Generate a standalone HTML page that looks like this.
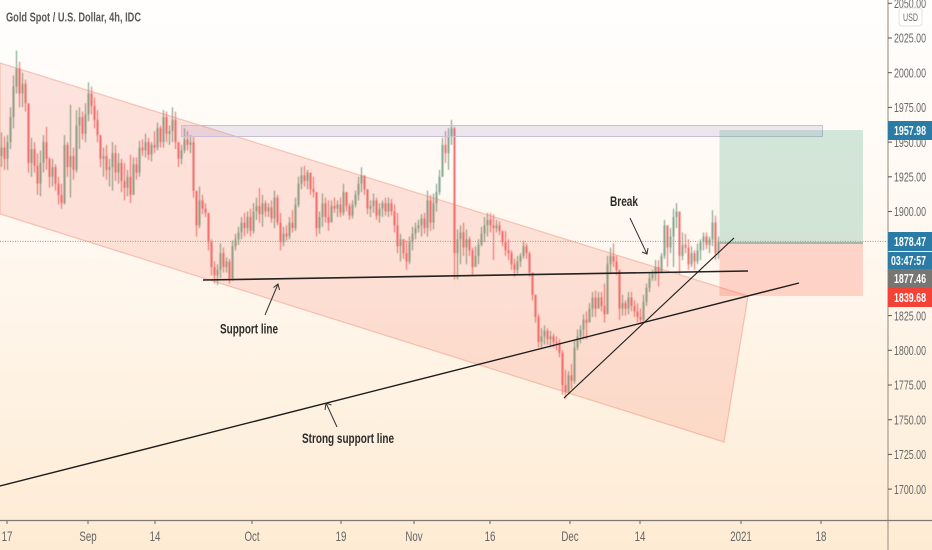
<!DOCTYPE html>
<html lang="en">
<head>
<meta charset="utf-8">
<title>Gold Spot / U.S. Dollar, 4h, IDC</title>
<style>
html,body{margin:0;padding:0;width:932px;height:550px;overflow:hidden;background:#fff}
svg{display:block;font-family:"Liberation Sans",sans-serif}
</style>
</head>
<body>
<svg id="chart" xmlns="http://www.w3.org/2000/svg" width="932" height="550" viewBox="0 0 932 550">
  <defs>
    <linearGradient id="bg" x1="0" y1="0" x2="0" y2="1">
      <stop offset="0" stop-color="#fffefd"/>
      <stop offset="0.45" stop-color="#fff8f0"/>
      <stop offset="1" stop-color="#feebd3"/>
    </linearGradient>
    <filter id="soft" x="-2%" y="-2%" width="104%" height="104%"><feGaussianBlur stdDeviation="0.4"/></filter>
  </defs>
  <rect x="0" y="0" width="932" height="550" fill="url(#bg)"/>
  <g id="candles" filter="url(#soft)"></g>

  <polygon points="0,63 748,296 724,442 0,214" fill="rgba(240,85,60,0.145)" stroke="rgba(238,130,110,0.42)" stroke-width="1.2"/>
  <rect x="181.5" y="125.5" width="641" height="11" fill="rgba(135,115,190,0.15)" stroke="#c8bfd6" stroke-width="1"/>
  <rect x="719.5" y="130" width="143.5" height="113" fill="rgba(60,160,120,0.23)"/>
  <rect x="719.5" y="243" width="143.5" height="53" fill="rgba(250,90,70,0.23)"/>
  <line x1="719.5" y1="243" x2="863" y2="243" stroke="#8a9a90" stroke-width="1.2"/>
  <line id="last-price-line" x1="0" x2="888" stroke="#7fa596" stroke-width="1" stroke-dasharray="1 1.5"/>

  <g>
    <line x1="203" y1="280" x2="748" y2="271" stroke="#222" stroke-width="1.6"/>
    <line x1="0" y1="486" x2="799" y2="283" stroke="#1c1c1c" stroke-width="1.4"/>
    <line x1="564" y1="398" x2="734" y2="238" stroke="#1c1c1c" stroke-width="1.1"/>
    <g fill="none" stroke="#333" stroke-width="1">
      <path d="M265 315 L278 284 M273.5 287.5 L278 284 L279.5 290"/>
    </g>
    <g fill="none" stroke="#333" stroke-width="1">
      <path d="M337 427 L326 403 M325 410 L326 403 L331.5 405"/>
    </g>
    <g fill="none" stroke="#333" stroke-width="1">
      <path d="M630 218 L647 254 M642 252 L647 254 L648 248"/>
    </g>
  </g>

  <text x="6" y="21.5" font-size="13" font-weight="700" fill="#5a5a5a" textLength="135" lengthAdjust="spacingAndGlyphs">Gold Spot / U.S. Dollar, 4h, IDC</text>
  <text x="610" y="206" font-size="14" font-weight="700" fill="#2c2c2c" textLength="28" lengthAdjust="spacingAndGlyphs">Break</text>
  <text x="220" y="333.5" font-size="14" font-weight="700" fill="#2c2c2c" textLength="58" lengthAdjust="spacingAndGlyphs">Support line</text>
  <text x="302" y="443" font-size="14" font-weight="700" fill="#2c2c2c" textLength="92" lengthAdjust="spacingAndGlyphs">Strong support line</text>

  <line x1="888" y1="0" x2="888" y2="550" stroke="#b3a899" stroke-width="1.4"/>
  <line x1="0" y1="520.5" x2="932" y2="520.5" stroke="#7d7a75" stroke-width="1.2"/>
  <g id="y-axis"></g>
  <g id="x-axis"></g>

  <g>
    <rect x="899" y="8" width="23" height="18" rx="3" fill="#fff" stroke="#e6e1db"/>
    <text x="910.5" y="21" font-size="11" fill="#6a6a6a" text-anchor="middle" textLength="15" lengthAdjust="spacingAndGlyphs">USD</text>
  </g>

  <g>
    <rect x="888" y="121" width="44" height="19" fill="#2a7ca6"/>
    <text x="894" y="135" font-size="12.5" font-weight="700" fill="#fff" textLength="32" lengthAdjust="spacingAndGlyphs">1957.98</text>
  </g>
  <g>
    <rect x="888" y="232" width="44" height="19" fill="#2a7ca6"/>
    <text x="894" y="246" font-size="12.5" font-weight="700" fill="#fff" textLength="32" lengthAdjust="spacingAndGlyphs">1878.47</text>
  </g>
  <g>
    <rect x="888" y="252" width="44" height="17" fill="#2a7ca6"/>
    <text x="891" y="265" font-size="12.5" font-weight="700" fill="#fff" textLength="35" lengthAdjust="spacingAndGlyphs">03:47:57</text>
  </g>
  <g>
    <rect x="888" y="269" width="44" height="19" fill="#777672"/>
    <text x="894" y="283" font-size="12.5" font-weight="700" fill="#fff" textLength="32" lengthAdjust="spacingAndGlyphs">1877.46</text>
  </g>
  <g>
    <rect x="888" y="288" width="44" height="19" fill="#f44336"/>
    <text x="894" y="302" font-size="12.5" font-weight="700" fill="#fff" textLength="32" lengthAdjust="spacingAndGlyphs">1839.68</text>
  </g>
</svg>

<script>
// Chart data (prices in USD)
const firstOpen = 1940;
const lastPrice = 1878.47;
const highs = [
1957,1954,1955,1975,1998,2016,2008,2000,1995,1975,
1953,1950,1942,1944,1955,1961,1939,1938,1934,1925,
1920,1955,1950,1977,1946,1973,1975,1972,1978,1993,
1990,1982,1973,1955,1946,1948,1938,1950,1948,1942,
1938,1935,1930,1941,1939,1939,1951,1952,1956,1953,
1950,1958,1964,1962,1973,1972,1962,1975,1972,1949,
1948,1960,1958,1955,1954,1912,1918,1912,1906,1898,
1880,1864,1862,1877,1874,1867,1866,1879,1884,1889,
1896,1899,1900,1902,1906,1910,1917,1912,1908,1906,
1908,1915,1912,1899,1889,1890,1896,1901,1910,1925,
1932,1933,1930,1928,1925,1914,1900,1913,1910,1908,
1908,1910,1908,1910,1920,1914,1906,1908,1915,1925,
1932,1926,1916,1908,1913,1910,1906,1908,1910,1910,
1909,1905,1899,1884,1880,1879,1882,1889,1892,1894,
1898,1899,1915,1912,1913,1920,1930,1953,1958,1960,
1966,1961,1887,1890,1892,1887,1882,1874,1875,1880,
1889,1896,1899,1899,1898,1894,1893,1886,1886,1880,
1872,1866,1868,1870,1879,1877,1871,1856,1838,1826,
1816,1818,1816,1814,1812,1810,1808,1800,1786,1785,
1790,1807,1815,1818,1826,1828,1834,1842,1843,1842,
1842,1848,1868,1874,1877,1868,1858,1840,1836,1842,
1842,1836,1834,1830,1840,1848,1856,1858,1865,1865,
1870,1894,1890,1888,1902,1906,1887,1885,1884,1880,
1875,1872,1877,1880,1885,1885,1882,1901,1897,1882
];
const lows = [
1932,1930,1930,1945,1960,1985,1975,1975,1972,1928,
1925,1928,1912,1911,1928,1930,1917,1918,1915,1905,
1902,1905,1925,1910,1923,1928,1945,1952,1950,1965,
1970,1960,1950,1932,1925,1923,1918,1915,1922,1920,
1914,1908,1911,1906,1912,1923,1925,1940,1939,1937,
1936,1942,1944,1946,1946,1950,1948,1950,1945,1932,
1934,1942,1944,1942,1910,1882,1888,1898,1896,1872,
1854,1848,1847,1852,1856,1856,1848,1850,1872,1876,
1880,1882,1884,1882,1884,1894,1892,1889,1896,1896,
1892,1888,1890,1872,1875,1879,1880,1885,1886,1903,
1916,1918,1916,1912,1910,1882,1884,1889,1892,1886,
1895,1899,1896,1896,1897,1900,1894,1895,1903,1908,
1914,1912,1898,1896,1899,1894,1892,1896,1897,1896,
1897,1885,1870,1864,1866,1858,1862,1872,1880,1885,
1882,1884,1882,1886,1887,1900,1912,1925,1935,1930,
1948,1851,1851,1862,1868,1862,1868,1854,1860,1862,
1875,1878,1882,1885,1865,1885,1883,1875,1868,1865,
1858,1853,1855,1860,1866,1866,1853,1836,1820,1802,
1802,1804,1804,1802,1802,1800,1795,1768,1765,1768,
1772,1776,1800,1805,1808,1808,1820,1824,1824,1830,
1828,1820,1834,1856,1860,1854,1822,1825,1825,1826,
1828,1824,1820,1819,1820,1832,1842,1850,1850,1846,
1858,1866,1860,1870,1860,1888,1855,1865,1870,1858,
1860,1858,1862,1865,1872,1873,1870,1875,1865,1866
];
const closes = [
1946,1938,1950,1968,1990,2003,1985,1992,1978,1935,
1945,1933,1920,1935,1950,1938,1925,1932,1920,1912,
1906,1948,1932,1940,1930,1962,1968,1956,1970,1985,
1976,1966,1955,1938,1940,1930,1932,1942,1928,1935,
1922,1917,1925,1912,1934,1928,1946,1944,1950,1941,
1948,1946,1960,1950,1968,1956,1958,1966,1950,1938,
1944,1952,1948,1950,1915,1890,1908,1902,1899,1878,
1860,1854,1858,1870,1860,1864,1852,1875,1880,1885,
1892,1888,1896,1886,1900,1904,1898,1906,1900,1903,
1895,1910,1892,1878,1884,1882,1892,1888,1905,1920,
1926,1922,1928,1916,1914,1888,1896,1906,1896,1892,
1904,1902,1905,1899,1914,1904,1897,1905,1912,1920,
1926,1916,1902,1904,1908,1897,1902,1906,1900,1906,
1900,1890,1875,1880,1870,1864,1878,1884,1888,1890,
1895,1888,1908,1892,1906,1914,1925,1948,1942,1954,
1960,1870,1880,1885,1874,1880,1872,1860,1868,1876,
1884,1890,1894,1890,1888,1890,1886,1878,1872,1870,
1862,1858,1864,1868,1875,1870,1856,1840,1824,1806,
1810,1814,1808,1810,1806,1805,1798,1775,1770,1782,
1778,1802,1810,1815,1822,1820,1830,1838,1830,1838,
1832,1826,1862,1868,1864,1858,1830,1834,1830,1838,
1832,1828,1824,1822,1835,1845,1852,1855,1860,1856,
1868,1890,1874,1882,1896,1900,1868,1876,1874,1862,
1870,1864,1872,1878,1882,1876,1880,1892,1870,1878
];
const priceTicks = ["2050.00","2025.00","2000.00","1975.00","1950.00","1925.00","1900.00","1825.00","1800.00","1775.00","1750.00","1725.00","1700.00"];
const timeLabels = ["17","Sep","14","Oct","19","Nov","16","Dec","14","2021","18"];
const timeTickBars = [1.83,28.83,51.17,83.5,113.17,137.5,162.83,189.5,212.83,246.5,273.17];

// Axis functions
function xOf(bar){ return 1.5 + bar * 3; }
function yOf(price){ return 38 + (2025 - price) * 1.388; }

const NS = 'http://www.w3.org/2000/svg';
function make(tag, parent){
  const el = document.createElementNS(NS, tag);
  parent.appendChild(el);
  return el;
}

// Candles
const candleLayer = document.getElementById('candles');
closes.forEach(function(close, i){
  const open = i === 0 ? firstOpen : closes[i - 1];
  const up = close >= open;
  const cx = xOf(i);
  const group = make('g', candleLayer);
  
  
  const wick = make('line', group);
  
  
  wick.setAttribute('x1', cx);
  wick.setAttribute('x2', cx);
  wick.setAttribute('y1', yOf(highs[i]));
  wick.setAttribute('y2', yOf(lows[i]));
  wick.setAttribute('stroke', up ? '#6f9a7e' : '#f7666c');
  wick.setAttribute('stroke-width', '1');
  const top = yOf(Math.max(open, close));
  const bottom = yOf(Math.min(open, close));
  const body = make('rect', group);
  
  
  body.setAttribute('x', cx - 1);
  body.setAttribute('y', top);
  body.setAttribute('width', '2');
  body.setAttribute('height', Math.max(1, bottom - top));
  body.setAttribute('fill', up ? '#7ea58a' : '#f26a6c');
});

// Last price line
const lastLine = document.getElementById('last-price-line');
lastLine.setAttribute('y1', yOf(lastPrice));
lastLine.setAttribute('y2', yOf(lastPrice));

// Price axis
const yAxis = document.getElementById('y-axis');
priceTicks.forEach(function(label){
  const py = yOf(parseFloat(label));
  const tick = make('line', yAxis);
  
  
  tick.setAttribute('x1', 888);
  tick.setAttribute('x2', 892);
  tick.setAttribute('y1', py);
  tick.setAttribute('y2', py);
  tick.setAttribute('stroke', '#555');
  const text = make('text', yAxis);
  
  
  text.setAttribute('x', 894);
  text.setAttribute('y', py + 4.7);
  text.setAttribute('font-size', '12.5');
  text.setAttribute('fill', '#666');
  text.setAttribute('textLength', '32');
  text.setAttribute('lengthAdjust', 'spacingAndGlyphs');
  text.textContent = label;
});

// Time axis
const xAxis = document.getElementById('x-axis');
timeLabels.forEach(function(label, i){
  const px = xOf(timeTickBars[i]);
  const tick = make('line', xAxis);
  
  
  tick.setAttribute('x1', px);
  tick.setAttribute('x2', px);
  tick.setAttribute('y1', 521);
  tick.setAttribute('y2', 524);
  tick.setAttribute('stroke', '#666');
  const text = make('text', xAxis);
  
  
  text.setAttribute('x', 0);
  text.setAttribute('y', 541);
  text.setAttribute('font-size', '13.5');
  text.setAttribute('text-anchor', 'middle');
  text.setAttribute('fill', '#666');
  text.setAttribute('transform', 'translate(' + px + ' 0) scale(0.72 1)');
  text.textContent = label;
});
</script>
</body>
</html>
